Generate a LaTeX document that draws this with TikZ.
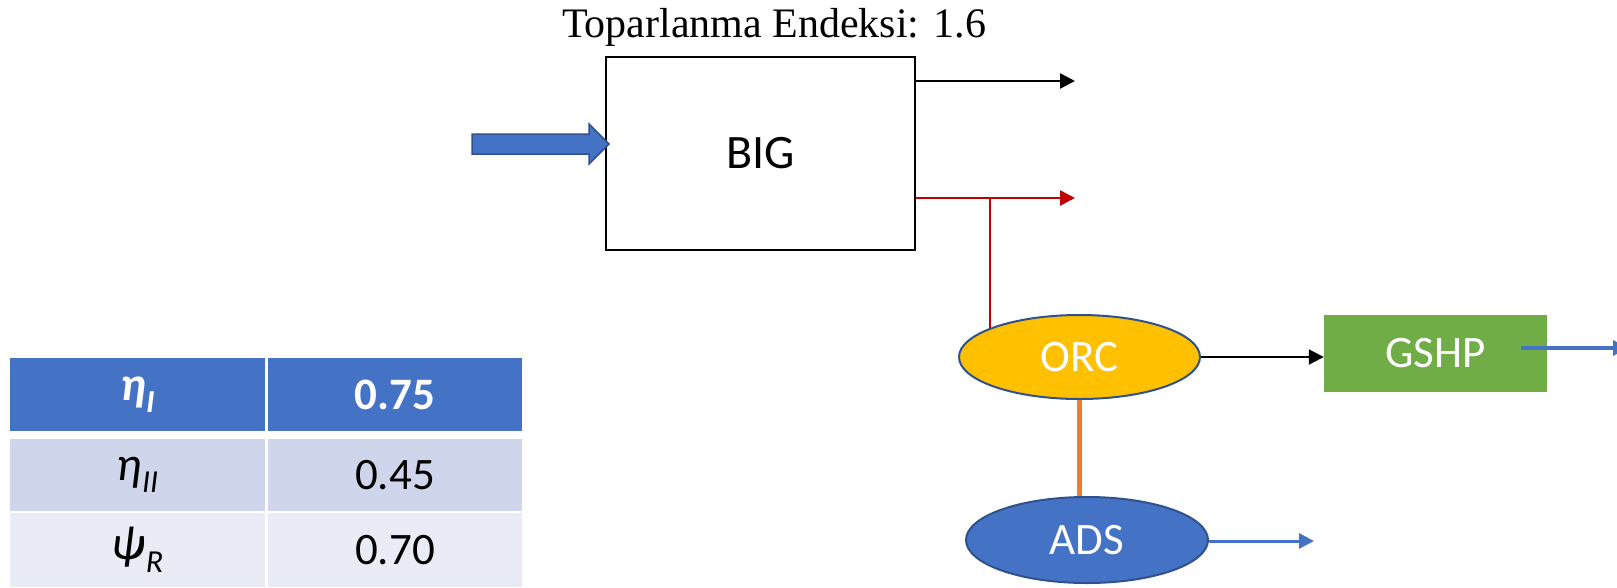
\documentclass[tikz,border=0pt]{standalone}
\usepackage{fontspec}
\newfontfamily\calibri{Carlito}
\newfontfamily\timesf{Liberation Serif}
\usetikzlibrary{arrows.meta,shapes.geometric,backgrounds}

\definecolor{accentblue}{HTML}{4472C4}
\definecolor{edgeblue}{HTML}{2F528F}
\definecolor{amber}{HTML}{FFC000}
\definecolor{leafgreen}{HTML}{70AD47}
\definecolor{darkred}{HTML}{C00000}
\definecolor{warmorange}{HTML}{ED7D31}
\definecolor{rowmid}{HTML}{CFD5EA}
\definecolor{rowlight}{HTML}{E9EBF5}

% symbol with a lowered subscript, as used in the table
\newcommand\symsub[2]{{\fontsize{48}{52}\selectfont #1}\raisebox{-0.28em}{\fontsize{32}{34}\selectfont #2}}

\tikzset{
  flow/.style={line width=2.5pt, -{Triangle[length=15pt,width=15pt]}},
  unitbox/.style={draw=black, line width=2pt, fill=white, inner sep=0pt},
  unitoval/.style={ellipse, draw=edgeblue, line width=2pt, inner sep=0pt,
    text=white, font=\calibri\fontsize{45}{50}\selectfont},
  cell/.style={inner sep=0pt, font=\calibri\fontsize{45}{48}\selectfont},
}

\begin{document}
\begin{tikzpicture}[x=1pt,y=-1pt]
\useasboundingbox (0,0) rectangle (1617,587);

% title
\node[anchor=base, inner sep=0pt, font=\timesf\fontsize{42}{46}\selectfont]
  (title) at (774,37) {Toparlanma Endeksi: 1.6};

% main unit
\node[unitbox, minimum width=309pt, minimum height=193pt,
  font=\calibri\fontsize{48}{52}\selectfont] (big) at (760.5,153.5) {BIG};

% input block arrow
\coordinate (feedtip) at (609,144);
\draw[fill=accentblue, draw=edgeblue, line width=1.5pt]
  (472,134) -- (589,134) -- (589,124) -- (feedtip) -- (589,164) -- (589,154)
  -- (472,154) -- cycle;

% downstream units
\node[unitoval, fill=amber, minimum width=241pt, minimum height=84pt]
  (orc) at (1079.5,357) {ORC};
\node[unitoval, fill=accentblue, minimum width=242pt, minimum height=86pt]
  (ads) at (1087,540) {ADS};
\node[fill=leafgreen, inner sep=0pt, minimum width=223pt, minimum height=77pt,
  text=white, font=\calibri\fontsize{45}{50}\selectfont]
  (gshp) at (1435.5,353.5) {GSHP};

% outputs of the main unit
\coordinate (out1) at (1075,81);
\coordinate (out2) at (1075,198);
\coordinate (tap) at (990,198);
\draw[flow, black] (big.east |- out1) -- (out1);
\draw[flow, darkred] (big.east |- out2) -- (out2);
\begin{scope}[on background layer]
  \draw[darkred, line width=2.5pt] (tap) -- (tap |- orc.center);
\end{scope}

% links between units
\draw[flow, black, line width=2pt] (orc.east) -- (orc.east -| gshp.west);
\draw[warmorange, line width=4.5pt] (orc.south) -- (orc.south |- ads.north);
\coordinate (adsout) at (1314,541);
\draw[flow, accentblue, line width=3pt] (ads.east |- adsout) -- (adsout);
\coordinate (gshpin) at (1521,348);
\coordinate (gshpout) at (1628,348);
\draw[flow, accentblue, line width=3.5pt] (gshpin) -- (gshpout);

% performance table
\node[cell, fill=accentblue, text=white, minimum width=255pt, minimum height=73pt]
  (t11) at (137.5,394.5) {\bfseries\itshape\symsub{η}{I}};
\node[cell, fill=accentblue, text=white, minimum width=254pt, minimum height=73pt]
  (t12) at (395,394.5) {\bfseries 0.75};
\node[cell, fill=rowmid, minimum width=255pt, minimum height=72pt]
  (t21) at (137.5,475) {\itshape\symsub{η}{II}};
\node[cell, fill=rowmid, minimum width=254pt, minimum height=72pt]
  (t22) at (395,475) {0.45};
\node[cell, fill=rowlight, minimum width=255pt, minimum height=74pt]
  (t31) at (137.5,550) {\itshape\symsub{ψ}{R}};
\node[cell, fill=rowlight, minimum width=254pt, minimum height=74pt]
  (t32) at (395,550) {0.70};
\end{tikzpicture}
\end{document}
